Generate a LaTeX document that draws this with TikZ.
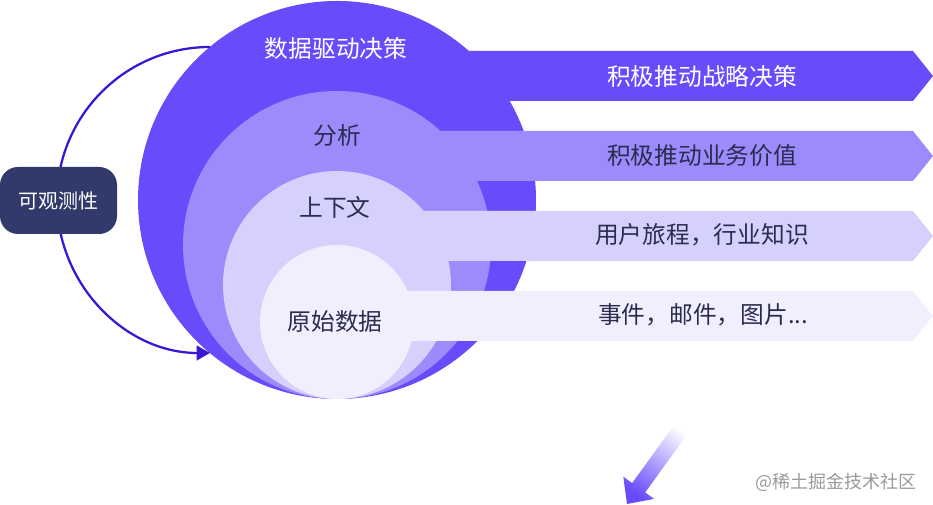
\documentclass[tikz,border=0pt]{standalone}
\usepackage{fontspec}
\newfontfamily\cjk{Noto Sans CJK SC}
\usetikzlibrary{positioning,arrows.meta}
\definecolor{Layer1}{HTML}{6A4BFC}
\definecolor{Layer2}{HTML}{9D8BFC}
\definecolor{Layer3}{HTML}{D6D0FC}
\definecolor{Layer4}{HTML}{F1EFFD}
\definecolor{Ink}{HTML}{2A2C50}
\definecolor{Navy}{HTML}{313A6B}
\definecolor{Loop}{HTML}{3A17D2}
\definecolor{Mark}{HTML}{9A9A9A}

\begin{document}
\begin{tikzpicture}[x=0.75pt,y=0.75pt,
    ring/.style={circle,inner sep=0pt,outer sep=0pt},
    ringtext/.style={font=\cjk\fontsize{17.8}{21}\selectfont,text=Ink,inner sep=0pt},
    bandtext/.style={font=\cjk\fontsize{17.8}{21}\selectfont,text=Ink,inner sep=0pt},
    arrow/.style={-{Triangle[length=10pt,width=11pt]},line width=1.7pt,draw=Loop}
]
\useasboundingbox (0,0) rectangle (933,505);

% Outer layer: data driven decisions
\node[ring,fill=Layer1,minimum size=298.5pt] (ring-1) at (337,305) {};
\fill[Layer1] (337,404) -- (913,404) -- (933,429) -- (913,454) -- (337,454) -- cycle;

% Analysis
\node[ring,fill=Layer2,minimum size=231pt] (ring-2) at (337,260) {};
\fill[Layer2] (337,324) -- (913,324) -- (933,349) -- (913,374) -- (337,374) -- cycle;

% Context
\node[ring,fill=Layer3,minimum size=171pt] (ring-3) at (337,220) {};
\fill[Layer3] (337,244) -- (913,244) -- (933,269) -- (913,294) -- (337,294) -- cycle;

% Raw data
\node[ring,fill=Layer4,minimum size=115.5pt] (ring-4) at (337,183) {};
\fill[Layer4] (337,164) -- (913,164) -- (933,189) -- (913,214) -- (337,214) -- cycle;

% Layer titles
\node[ringtext,text=white] (title-1) at (336,457) {数据驱动决策};
\node[ringtext] (title-2) at (337,369) {分析};
\node[ringtext] (title-3) at (335,298) {上下文};
\node[ringtext] (title-4) at (335,183) {原始数据};

% Band texts
\node[bandtext,text=white] (band-1) at (702,429) {积极推动战略决策};
\node[bandtext] (band-2) at (702,349) {积极推动业务价值};
\node[bandtext] (band-3) at (702,270) {用户旅程，行业知识};
\node[bandtext] (band-4) at (703,190) {事件，邮件，图片...};

% Observability loop
\coordinate (loop-start) at (210,458);
\draw[arrow] (loop-start) arc[start angle=90,end angle=270,radius=114.75pt];
\node[rectangle,rounded corners=13.5pt,fill=Navy,minimum width=87.75pt,minimum height=50.25pt,
  font=\cjk\fontsize{15}{18}\selectfont,text=white] (observe) at (58.5,304.5) {可观测性};

% Fading arrow
\shade[top color=white,bottom color=Layer1,shading angle=-36]
  (627,1) -- (654.1,6.1) -- (645.2,12.5) -- (692,77.4) -- (679,86.8) -- (632.2,21.9) -- (623.3,28.3) -- cycle;

% Watermark
\node[font=\cjk\fontsize{13.5}{16}\selectfont,text=Mark] (mark) at (836,23) {@稀土掘金技术社区};

\end{tikzpicture}
\end{document}
